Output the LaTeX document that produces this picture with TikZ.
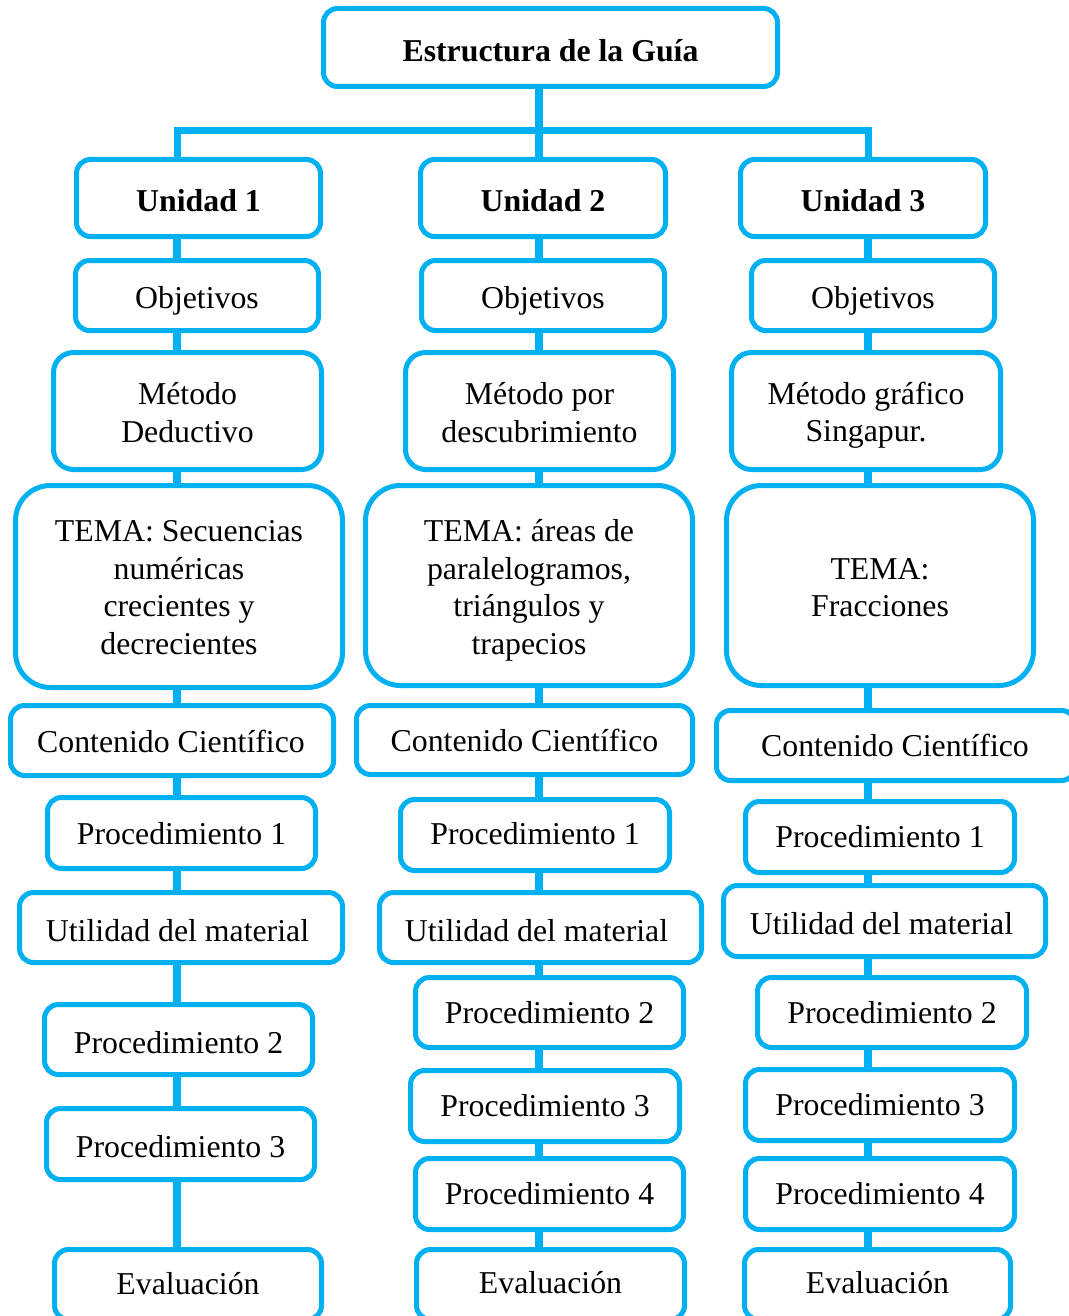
\documentclass[tikz,border=0pt]{standalone}
\usepackage{fontspec}
\setmainfont{Liberation Serif}
\usetikzlibrary{backgrounds}
\definecolor{lb}{HTML}{00B0F0}
\tikzset{
  x=1pt,y=-1pt,
  boxstyle/.style={draw=lb, fill=white, line width=5pt, rectangle, inner sep=0pt},
  txt/.style={inner sep=0pt, align=center, font=\fontsize{31.8}{37.5}\selectfont, text=black},
  conn/.style={draw=lb, line width=8pt, line cap=butt},
  barline/.style={draw=lb, line width=7pt, line join=miter}
}
% name, x1, y1, x2, y2, radius, dx, dy (down), text
\newcommand\bx[9]{%
  \node[boxstyle, rounded corners=#6pt, minimum width={#4-#2-5}, minimum height={#5-#3-5}]
    (#1) at ({(#2+#4)/2},{(#3+#5)/2}) {};
  \node[txt] (#1t) at ([xshift=#7pt,yshift=-#8pt]#1.center) {#9};}
\begin{document}
\begin{tikzpicture}
\useasboundingbox (0,0) rectangle (1068,1316);
\coordinate (c1) at (177,0);
\coordinate (c2) at (539,0);
\coordinate (c3) at (868,0);
\coordinate (b1) at (177,131);
\coordinate (b3) at (868,131);

\bx{title}{321}{6}{780}{89}{14}{0}{3}{\textbf{Estructura de la Guía}}
% column 1
\bx{u1}{74}{157}{323}{239}{14}{0}{3}{\textbf{Unidad 1}}
\bx{o1}{73}{258}{321}{333}{14}{0}{5}{Objetivos}
\bx{m1}{51}{350}{324}{472}{20}{0}{1.5}{Método\\Deductivo}
\bx{t1}{13}{483}{345}{690}{35}{0}{1}{TEMA: Secuencias\\numéricas\\crecientes y\\decrecientes}
\bx{k1}{8}{703}{336}{778}{14}{-1}{1}{Contenido Científico}
\bx{pa1}{45}{795}{318}{871}{14}{0}{1}{Procedimiento 1}
\bx{ut1}{17}{890}{345}{965}{14}{-3.5}{3}{Utilidad del material}
\bx{pb1}{42}{1002}{315}{1077}{14}{0}{3}{Procedimiento 2}
\bx{pc1}{44}{1106}{317}{1182}{14}{0}{3}{Procedimiento 3}
\bx{e1}{52}{1247}{324}{1322}{14}{0}{-1}{Evaluación}
% column 2
\bx{u2}{418}{157}{668}{239}{14}{0}{3}{\textbf{Unidad 2}}
\bx{o2}{419}{258}{667}{333}{14}{0}{5}{Objetivos}
\bx{m2}{403}{350}{676}{472}{20}{0}{1.5}{Método por\\descubrimiento}
\bx{t2}{363}{483}{695}{688}{35}{0}{5}{TEMA: áreas de\\paralelogramos,\\triángulos y\\trapecios}
\bx{k2}{354}{703}{695}{777}{14}{0}{0}{Contenido Científico}
\bx{pa2}{398}{797}{672}{873}{14}{0}{-1}{Procedimiento 1}
\bx{ut2}{377}{890}{704}{965}{14}{-4}{3}{Utilidad del material}
\bx{pb2}{413}{975}{686}{1050}{14}{0}{0}{Procedimiento 2}
\bx{pc2}{408}{1068}{682}{1144}{14}{0}{0}{Procedimiento 3}
\bx{pd2}{413}{1156}{686}{1232}{14}{0}{0}{Procedimiento 4}
\bx{e2}{414}{1247}{687}{1322}{14}{0}{-2}{Evaluación}
% column 3
\bx{u3}{738}{157}{988}{239}{14}{0}{3}{\textbf{Unidad 3}}
\bx{o3}{749}{258}{997}{333}{14}{0}{5}{Objetivos}
\bx{m3}{729}{350}{1003}{472}{20}{0}{4}{Método gráfico\\Singapur.}
\bx{t3}{724}{483}{1036}{688}{35}{0}{2}{TEMA:\\Fracciones}
\bx{k3}{714}{708}{1078}{783}{14}{-1}{0}{Contenido Científico}
\bx{pa3}{743}{799}{1017}{875}{14}{0}{0}{Procedimiento 1}
\bx{ut3}{721}{883}{1048}{959}{14}{-3}{3}{Utilidad del material}
\bx{pb3}{755}{975}{1029}{1050}{14}{0}{0}{Procedimiento 2}
\bx{pc3}{743}{1067}{1017}{1143}{14}{0}{0}{Procedimiento 3}
\bx{pd3}{743}{1156}{1017}{1232}{14}{0}{0}{Procedimiento 4}
\bx{e3}{742}{1247}{1013}{1322}{14}{0}{-2}{Evaluación}

\begin{pgfonlayer}{background}
  \draw[conn] (title.south -| c2) -- (u2.north -| c2);
  \draw[barline] (u1.north -| b1) -- (b1) -- (b3) -- (u3.north -| b3);
  \foreach \a/\b in {u1/o1,o1/m1,m1/t1,t1/k1,k1/pa1,pa1/ut1,ut1/pb1,pb1/pc1,pc1/e1}
    \draw[conn] (\a.south -| c1) -- (\b.north -| c1);
  \foreach \a/\b in {u2/o2,o2/m2,m2/t2,t2/k2,k2/pa2,pa2/ut2,ut2/pb2,pb2/pc2,pc2/pd2,pd2/e2}
    \draw[conn] (\a.south -| c2) -- (\b.north -| c2);
  \foreach \a/\b in {u3/o3,o3/m3,m3/t3,t3/k3,k3/pa3,pa3/ut3,ut3/pb3,pb3/pc3,pc3/pd3,pd3/e3}
    \draw[conn] (\a.south -| c3) -- (\b.north -| c3);
\end{pgfonlayer}
\end{tikzpicture}
\end{document}
